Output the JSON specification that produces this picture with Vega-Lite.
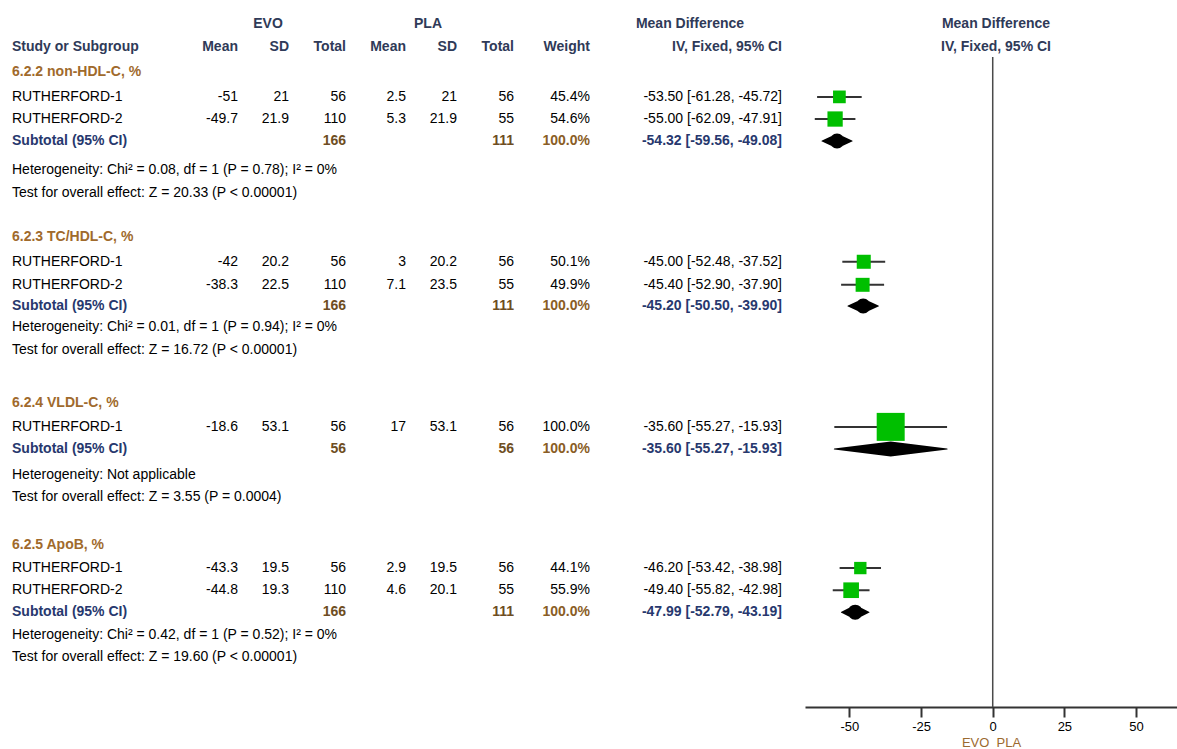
{
  "$schema": "https://vega.github.io/schema/vega-lite/v6.json",
  "width": 1177,
  "height": 707,
  "autosize": {"type": "none"},
  "padding": {"left": 0, "top": 0, "right": 0, "bottom": 42},
  "background": "white",
  "config": {
    "view": {"stroke": null},
    "font": "Liberation Sans",
    "text": {"font": "Liberation Sans", "fontSize": 14, "baseline": "middle"}
  },
  "datasets": {
    "studies": [
      {"grp": "g1", "line": 4.33, "study": "RUTHERFORD-1", "em": "-51", "esd": "21", "en": "56", "pm": "2.5", "psd": "21", "pn": "56", "w": "45.4%", "wn": 45.4, "ci": "-53.50 [-61.28, -45.72]", "md": -53.5, "lo": -61.28, "hi": -45.72},
      {"grp": "g1", "line": 5.32, "study": "RUTHERFORD-2", "em": "-49.7", "esd": "21.9", "en": "110", "pm": "5.3", "psd": "21.9", "pn": "55", "w": "54.6%", "wn": 54.6, "ci": "-55.00 [-62.09, -47.91]", "md": -55.0, "lo": -62.09, "hi": -47.91},
      {"grp": "g2", "line": 11.7, "study": "RUTHERFORD-1", "em": "-42", "esd": "20.2", "en": "56", "pm": "3", "psd": "20.2", "pn": "56", "w": "50.1%", "wn": 50.1, "ci": "-45.00 [-52.48, -37.52]", "md": -45.0, "lo": -52.48, "hi": -37.52},
      {"grp": "g2", "line": 12.73, "study": "RUTHERFORD-2", "em": "-38.3", "esd": "22.5", "en": "110", "pm": "7.1", "psd": "23.5", "pn": "55", "w": "49.9%", "wn": 49.9, "ci": "-45.40 [-52.90, -37.90]", "md": -45.4, "lo": -52.9, "hi": -37.9},
      {"grp": "g3", "line": 19.08, "study": "RUTHERFORD-1", "em": "-18.6", "esd": "53.1", "en": "56", "pm": "17", "psd": "53.1", "pn": "56", "w": "100.0%", "wn": 100, "ci": "-35.60 [-55.27, -15.93]", "md": -35.6, "lo": -55.27, "hi": -15.93},
      {"grp": "g4", "line": 25.39, "study": "RUTHERFORD-1", "em": "-43.3", "esd": "19.5", "en": "56", "pm": "2.9", "psd": "19.5", "pn": "56", "w": "44.1%", "wn": 44.1, "ci": "-46.20 [-53.42, -38.98]", "md": -46.2, "lo": -53.42, "hi": -38.98},
      {"grp": "g4", "line": 26.38, "study": "RUTHERFORD-2", "em": "-44.8", "esd": "19.3", "en": "110", "pm": "4.6", "psd": "20.1", "pn": "55", "w": "55.9%", "wn": 55.9, "ci": "-49.40 [-55.82, -42.98]", "md": -49.4, "lo": -55.82, "hi": -42.98}
    ],
    "subtotals": [
      {"grp": "g1", "line": 6.3, "label": "Subtotal (95% CI)", "en": "166", "pn": "111", "w": "100.0%", "ci": "-54.32 [-59.56, -49.08]", "md": -54.32, "lo": -59.56, "hi": -49.08},
      {"grp": "g2", "line": 13.68, "label": "Subtotal (95% CI)", "en": "166", "pn": "111", "w": "100.0%", "ci": "-45.20 [-50.50, -39.90]", "md": -45.2, "lo": -50.5, "hi": -39.9},
      {"grp": "g3", "line": 20.07, "label": "Subtotal (95% CI)", "en": "56", "pn": "56", "w": "100.0%", "ci": "-35.60 [-55.27, -15.93]", "md": -35.6, "lo": -55.27, "hi": -15.93},
      {"grp": "g4", "line": 27.36, "label": "Subtotal (95% CI)", "en": "166", "pn": "111", "w": "100.0%", "ci": "-47.99 [-52.79, -43.19]", "md": -47.99, "lo": -52.79, "hi": -43.19}
    ],
    "groups": [
      {"line": 3.2, "t": "6.2.2 non-HDL-C, %"},
      {"line": 10.6, "t": "6.2.3 TC/HDL-C, %"},
      {"line": 18.0, "t": "6.2.4 VLDL-C, %"},
      {"line": 24.36, "t": "6.2.5 ApoB, %"}
    ],
    "notes": [
      {"line": 7.6, "t": "Heterogeneity: Chi² = 0.08, df = 1 (P = 0.78); I² = 0%"},
      {"line": 8.63, "t": "Test for overall effect: Z = 20.33 (P < 0.00001)"},
      {"line": 14.62, "t": "Heterogeneity: Chi² = 0.01, df = 1 (P = 0.94); I² = 0%"},
      {"line": 15.65, "t": "Test for overall effect: Z = 16.72 (P < 0.00001)"},
      {"line": 21.23, "t": "Heterogeneity: Not applicable"},
      {"line": 22.22, "t": "Test for overall effect: Z = 3.55 (P = 0.0004)"},
      {"line": 28.39, "t": "Heterogeneity: Chi² = 0.42, df = 1 (P = 0.52); I² = 0%"},
      {"line": 29.37, "t": "Test for overall effect: Z = 19.60 (P < 0.00001)"}
    ]
  },
  "encoding": {
    "y": {"field": "line", "type": "quantitative", "scale": {"domain": [0, 31.6], "reverse": true, "nice": false, "zero": false}, "axis": null}
  },
  "layer": [
    {
      "data": {"values": [{"line": 1.07, "t": "EVO"}]},
      "mark": {"type": "text", "fontWeight": "bold", "align": "center", "color": "#2f3a58"},
      "encoding": {"x": {"value": 268}, "text": {"field": "t"}}
    },
    {
      "data": {"values": [{"line": 1.07, "t": "PLA"}]},
      "mark": {"type": "text", "fontWeight": "bold", "align": "center", "color": "#2f3a58"},
      "encoding": {"x": {"value": 428}, "text": {"field": "t"}}
    },
    {
      "data": {"values": [{"line": 1.07, "t": "Mean Difference"}]},
      "mark": {"type": "text", "fontWeight": "bold", "align": "center", "color": "#2f3a58"},
      "encoding": {"x": {"value": 690}, "text": {"field": "t"}}
    },
    {
      "data": {"values": [{"line": 1.07, "t": "Mean Difference"}, {"line": 2.1, "t": "IV, Fixed, 95% CI"}]},
      "mark": {"type": "text", "fontWeight": "bold", "align": "center", "color": "#2f3a58"},
      "encoding": {"x": {"value": 996}, "text": {"field": "t"}}
    },
    {
      "data": {"values": [{"line": 2.1, "t": "Study or Subgroup"}]},
      "mark": {"type": "text", "fontWeight": "bold", "align": "left", "color": "#2f3a58"},
      "encoding": {"x": {"value": 12}, "text": {"field": "t"}}
    },
    {
      "data": {"values": [{"line": 2.1, "t": "Mean"}]},
      "mark": {"type": "text", "fontWeight": "bold", "align": "right", "color": "#2f3a58"},
      "encoding": {"x": {"value": 238}, "text": {"field": "t"}}
    },
    {
      "data": {"values": [{"line": 2.1, "t": "SD"}]},
      "mark": {"type": "text", "fontWeight": "bold", "align": "right", "color": "#2f3a58"},
      "encoding": {"x": {"value": 289}, "text": {"field": "t"}}
    },
    {
      "data": {"values": [{"line": 2.1, "t": "Total"}]},
      "mark": {"type": "text", "fontWeight": "bold", "align": "right", "color": "#2f3a58"},
      "encoding": {"x": {"value": 346}, "text": {"field": "t"}}
    },
    {
      "data": {"values": [{"line": 2.1, "t": "Mean"}]},
      "mark": {"type": "text", "fontWeight": "bold", "align": "right", "color": "#2f3a58"},
      "encoding": {"x": {"value": 406}, "text": {"field": "t"}}
    },
    {
      "data": {"values": [{"line": 2.1, "t": "SD"}]},
      "mark": {"type": "text", "fontWeight": "bold", "align": "right", "color": "#2f3a58"},
      "encoding": {"x": {"value": 457}, "text": {"field": "t"}}
    },
    {
      "data": {"values": [{"line": 2.1, "t": "Total"}]},
      "mark": {"type": "text", "fontWeight": "bold", "align": "right", "color": "#2f3a58"},
      "encoding": {"x": {"value": 514}, "text": {"field": "t"}}
    },
    {
      "data": {"values": [{"line": 2.1, "t": "Weight"}]},
      "mark": {"type": "text", "fontWeight": "bold", "align": "right", "color": "#2f3a58"},
      "encoding": {"x": {"value": 590}, "text": {"field": "t"}}
    },
    {
      "data": {"values": [{"line": 2.1, "t": "IV, Fixed, 95% CI"}]},
      "mark": {"type": "text", "fontWeight": "bold", "align": "right", "color": "#2f3a58"},
      "encoding": {"x": {"value": 782}, "text": {"field": "t"}}
    },
    {
      "data": {"name": "groups"},
      "mark": {"type": "text", "fontWeight": "bold", "align": "left", "color": "#a06a2c"},
      "encoding": {"x": {"value": 12}, "text": {"field": "t"}}
    },
    {
      "data": {"name": "notes"},
      "mark": {"type": "text", "align": "left", "color": "#000000"},
      "encoding": {"x": {"value": 12}, "text": {"field": "t"}}
    },
    {
      "data": {"name": "studies"},
      "mark": {"type": "text", "align": "left", "color": "#000000"},
      "encoding": {"x": {"value": 12}, "text": {"field": "study"}}
    },
    {
      "data": {"name": "studies"},
      "mark": {"type": "text", "align": "right", "color": "#000000"},
      "encoding": {"x": {"value": 238}, "text": {"field": "em"}}
    },
    {
      "data": {"name": "studies"},
      "mark": {"type": "text", "align": "right", "color": "#000000"},
      "encoding": {"x": {"value": 289}, "text": {"field": "esd"}}
    },
    {
      "data": {"name": "studies"},
      "mark": {"type": "text", "align": "right", "color": "#000000"},
      "encoding": {"x": {"value": 346}, "text": {"field": "en"}}
    },
    {
      "data": {"name": "studies"},
      "mark": {"type": "text", "align": "right", "color": "#000000"},
      "encoding": {"x": {"value": 406}, "text": {"field": "pm"}}
    },
    {
      "data": {"name": "studies"},
      "mark": {"type": "text", "align": "right", "color": "#000000"},
      "encoding": {"x": {"value": 457}, "text": {"field": "psd"}}
    },
    {
      "data": {"name": "studies"},
      "mark": {"type": "text", "align": "right", "color": "#000000"},
      "encoding": {"x": {"value": 514}, "text": {"field": "pn"}}
    },
    {
      "data": {"name": "studies"},
      "mark": {"type": "text", "align": "right", "color": "#000000"},
      "encoding": {"x": {"value": 590}, "text": {"field": "w"}}
    },
    {
      "data": {"name": "studies"},
      "mark": {"type": "text", "align": "right", "color": "#000000"},
      "encoding": {"x": {"value": 782}, "text": {"field": "ci"}}
    },
    {
      "data": {"name": "subtotals"},
      "mark": {"type": "text", "align": "left", "fontWeight": "bold", "color": "#27386e"},
      "encoding": {"x": {"value": 12}, "text": {"field": "label"}}
    },
    {
      "data": {"name": "subtotals"},
      "mark": {"type": "text", "align": "right", "fontWeight": "bold", "color": "#6e4d22"},
      "encoding": {"x": {"value": 346}, "text": {"field": "en"}}
    },
    {
      "data": {"name": "subtotals"},
      "mark": {"type": "text", "align": "right", "fontWeight": "bold", "color": "#6e4d22"},
      "encoding": {"x": {"value": 514}, "text": {"field": "pn"}}
    },
    {
      "data": {"name": "subtotals"},
      "mark": {"type": "text", "align": "right", "fontWeight": "bold", "color": "#8a5d25"},
      "encoding": {"x": {"value": 590}, "text": {"field": "w"}}
    },
    {
      "data": {"name": "subtotals"},
      "mark": {"type": "text", "align": "right", "fontWeight": "bold", "color": "#27386e"},
      "encoding": {"x": {"value": 782}, "text": {"field": "ci"}}
    },
    {
      "data": {"values": [{"line": 2.55, "line2": 31.6}]},
      "mark": {"type": "rule", "color": "#4a4a4a", "strokeWidth": 1.5},
      "encoding": {
        "x": {"datum": 0, "type": "quantitative"},
        "y": {"field": "line", "type": "quantitative"},
        "y2": {"field": "line2"}
      }
    },
    {
      "data": {"name": "studies"},
      "mark": {"type": "rule", "color": "#333333", "strokeWidth": 2},
      "encoding": {
        "x": {"field": "lo", "type": "quantitative"},
        "x2": {"field": "hi"}
      }
    },
    {
      "data": {"name": "studies"},
      "mark": {"type": "square", "filled": true, "color": "#00bf00", "opacity": 1},
      "encoding": {
        "x": {
          "field": "md",
          "type": "quantitative",
          "scale": {"domain": [-65.5, 64.3], "range": [805, 1177], "nice": false, "zero": false},
          "axis": {
            "values": [-50, -25, 0, 25, 50],
            "labelExpr": "replace(datum.label, '\u2212', '-')",
            "grid": false,
            "domainColor": "#333333",
            "domainWidth": 2,
            "tickColor": "#333333",
            "tickWidth": 2,
            "tickSize": 10,
            "labelFontSize": 13,
            "labelColor": "#000000",
            "labelFont": "Liberation Sans",
            "labelPadding": 3,
            "title": "EVO\u00a0\u00a0PLA",
            "titleFont": "Liberation Sans",
            "titleFontSize": 13,
            "titleFontWeight": "normal",
            "titleColor": "#9c6a30",
            "titlePadding": 3
          }
        },
        "size": {"field": "wn", "type": "quantitative", "scale": {"type": "pow", "exponent": 2, "domain": [0, 100], "range": [0, 784]}, "legend": null}
      }
    },
    {
      "data": {"name": "subtotals"},
      "transform": [{"fold": ["lo", "md", "hi"], "as": ["part", "xv"]}],
      "mark": {"type": "trail", "color": "#000000"},
      "encoding": {
        "x": {"field": "xv", "type": "quantitative"},
        "size": {"field": "part", "type": "ordinal", "scale": {"type": "ordinal", "domain": ["lo", "md", "hi"], "range": [0, 15, 0]}, "legend": null},
        "detail": {"field": "grp"},
        "order": {"field": "xv", "type": "quantitative"}
      }
    }
  ],
  "resolve": {"scale": {"size": "independent"}}
}
